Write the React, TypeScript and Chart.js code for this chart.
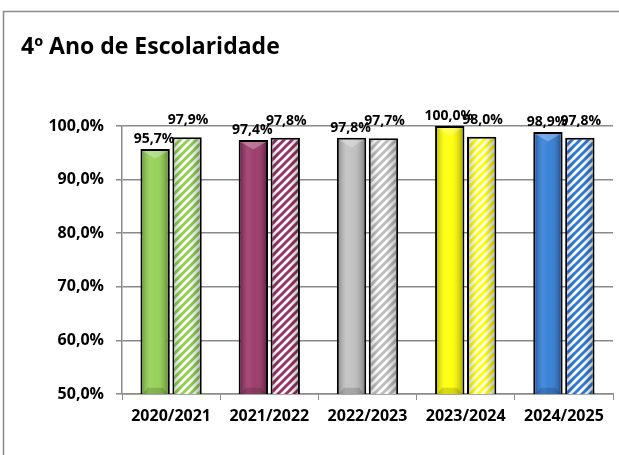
import { useEffect, useRef } from "react";
import { Chart, registerables } from "chart.js";

Chart.register(...registerables);

const categories = ["2020/2021", "2021/2022", "2022/2023", "2023/2024", "2024/2025"];
const schoolValues = [95.7, 97.4, 97.8, 100.0, 98.9];
const referenceValues = [97.9, 97.8, 97.7, 98.0, 97.8];
const yearColors = ["#92D050", "#993366", "#BFBFBF", "#FFFF00", "#2F7BD6"];
const titleText = "4º Ano de Escolaridade";
const FONT = "'Open Sans', Lato, sans-serif";

const fmt = (v: number) => v.toFixed(1).replace(".", ",") + "%";

function stripePattern(color: string): CanvasPattern | string {
  const c = document.createElement("canvas");
  const p = 8;
  c.width = p;
  c.height = p;
  const g = c.getContext("2d");
  if (!g) return color;
  g.fillStyle = "#ffffff";
  g.fillRect(0, 0, p, p);
  g.strokeStyle = color;
  g.lineWidth = 3;
  for (const k of [-p, 0, p]) {
    g.beginPath();
    g.moveTo(k - 1, p + 1);
    g.lineTo(k + p + 1, -1);
    g.stroke();
  }
  const pat = g.createPattern(c, "repeat");
  return pat || color;
}

const framePlugin = {
  id: "frameAndTitle",
  beforeDraw(chart: any) {
    const ctx = chart.ctx;
    ctx.save();
    ctx.fillStyle = "#ffffff";
    ctx.fillRect(0, 0, chart.width, chart.height);
    ctx.strokeStyle = "#8a8a8a";
    ctx.lineWidth = 1.5;
    ctx.beginPath();
    ctx.moveTo(3.5, chart.height + 5);
    ctx.lineTo(3.5, 11.5);
    ctx.lineTo(chart.width + 5, 11.5);
    ctx.stroke();
    ctx.fillStyle = "#000";
    ctx.font = `bold 23px ${FONT}`;
    ctx.textBaseline = "middle";
    ctx.textAlign = "left";
    ctx.fillText(titleText, 21, 47);
    ctx.restore();
  },
};

const shadePlugin = {
  id: "shadeAndLabels",
  afterDatasetsDraw(chart: any) {
    const ctx = chart.ctx;
    const area = chart.chartArea;
    ctx.save();
    chart.data.datasets.forEach((ds: any, di: number) => {
      const meta = chart.getDatasetMeta(di);
      meta.data.forEach((el: any, i: number) => {
        const { x, y, base, width } = el.getProps(["x", "y", "base", "width"], true);
        const bw = 2;
        const l = x - width / 2 + bw;
        const r = x + width / 2 - bw;
        const t = y + bw;
        const b = Math.min(base, area.bottom);
        const w = r - l;
        const grad = ctx.createLinearGradient(l, 0, r, 0);
        if (di === 0) {
          grad.addColorStop(0, "rgba(0,0,0,0.22)");
          grad.addColorStop(0.3, "rgba(255,255,255,0.12)");
          grad.addColorStop(0.55, "rgba(255,255,255,0.05)");
          grad.addColorStop(1, "rgba(0,0,0,0.3)");
        } else {
          grad.addColorStop(0, "rgba(0,0,0,0.18)");
          grad.addColorStop(0.3, "rgba(0,0,0,0)");
          grad.addColorStop(0.6, "rgba(0,0,0,0)");
          grad.addColorStop(1, "rgba(0,0,0,0.25)");
        }
        ctx.fillStyle = grad;
        ctx.fillRect(l, t, w, b - t);
        if (di === 0) {
          ctx.fillStyle = "rgba(255,255,255,0.28)";
          ctx.beginPath();
          ctx.moveTo(l, t);
          ctx.lineTo(r, t);
          ctx.lineTo(l + w / 2, t + w * 0.3);
          ctx.closePath();
          ctx.fill();
          ctx.fillStyle = "rgba(0,0,0,0.15)";
          ctx.beginPath();
          ctx.moveTo(l, b);
          ctx.lineTo(r, b);
          ctx.lineTo(r - w * 0.2, b - w * 0.25);
          ctx.lineTo(l + w * 0.2, b - w * 0.25);
          ctx.closePath();
          ctx.fill();
        }
        const v = ds.data[i];
        ctx.fillStyle = "#000";
        ctx.font = `bold 14px ${FONT}`;
        ctx.textAlign = "center";
        ctx.textBaseline = "bottom";
        ctx.fillText(fmt(v), x + (di === 1 ? 1 : -1), y - (di === 0 ? 3 : 10));
      });
    });
    ctx.restore();
  },
};

export default function App() {
  const ref = useRef<HTMLCanvasElement | null>(null);
  useEffect(() => {
    let chart: Chart | null = null;
    let cancelled = false;
    const build = () => {
      if (cancelled || !ref.current) return;
      chart = new Chart(ref.current, {
        type: "bar",
        data: {
          labels: categories,
          datasets: [
            {
              label: "Escola",
              data: schoolValues,
              backgroundColor: yearColors,
              borderColor: "#000",
              borderWidth: 2,
              categoryPercentage: 0.65,
              barPercentage: 0.92,
            },
            {
              label: "Referência",
              data: referenceValues,
              backgroundColor: yearColors.map((c) => stripePattern(c)) as any,
              borderColor: "#000",
              borderWidth: 2,
              categoryPercentage: 0.65,
              barPercentage: 0.92,
            },
          ],
        },
        options: {
          responsive: false,
          animation: false,
          layout: { padding: { top: 126, right: 6, left: 0, bottom: 0 } },
          plugins: { legend: { display: false }, tooltip: { enabled: false }, title: { display: false } },
          scales: {
            x: {
              grid: { display: true, drawOnChartArea: false, drawTicks: true, tickLength: 6, color: "#8a8a8a", offset: true },
              border: { display: true, color: "#8a8a8a", width: 1.5 },
              ticks: { color: "#000", font: { family: FONT, weight: "bold", size: 16 }, padding: 7, maxRotation: 0, autoSkip: false },
              afterFit: (s: any) => {
                s.height = 61;
              },
            },
            y: {
              min: 50,
              max: 100,
              ticks: { stepSize: 10, color: "#000", font: { family: FONT, weight: "bold", size: 16 }, padding: 12, callback: (v: any) => fmt(Number(v)) },
              grid: { color: "#8a8a8a", tickLength: 6, lineWidth: 1.5 },
              border: { display: true, color: "#8a8a8a", width: 1.5 },
              afterFit: (s: any) => {
                s.width = 122;
              },
            },
          },
        } as any,
        plugins: [framePlugin, shadePlugin],
      });
    };
    const fontsApi = (document as any).fonts;
    if (fontsApi && fontsApi.load) {
      Promise.all([
        fontsApi.load(`bold 16px 'Open Sans'`),
        fontsApi.load(`bold 23px 'Open Sans'`),
      ]).then(build, build);
    } else build();
    return () => {
      cancelled = true;
      if (chart) chart.destroy();
    };
  }, []);
  return (
    <div style={{ position: "fixed", left: 0, top: 0, width: 619, height: 455, background: "#fff" }}>
      <canvas ref={ref} width={619} height={455} style={{ display: "block", width: 619, height: 455 }} />
    </div>
  );
}
